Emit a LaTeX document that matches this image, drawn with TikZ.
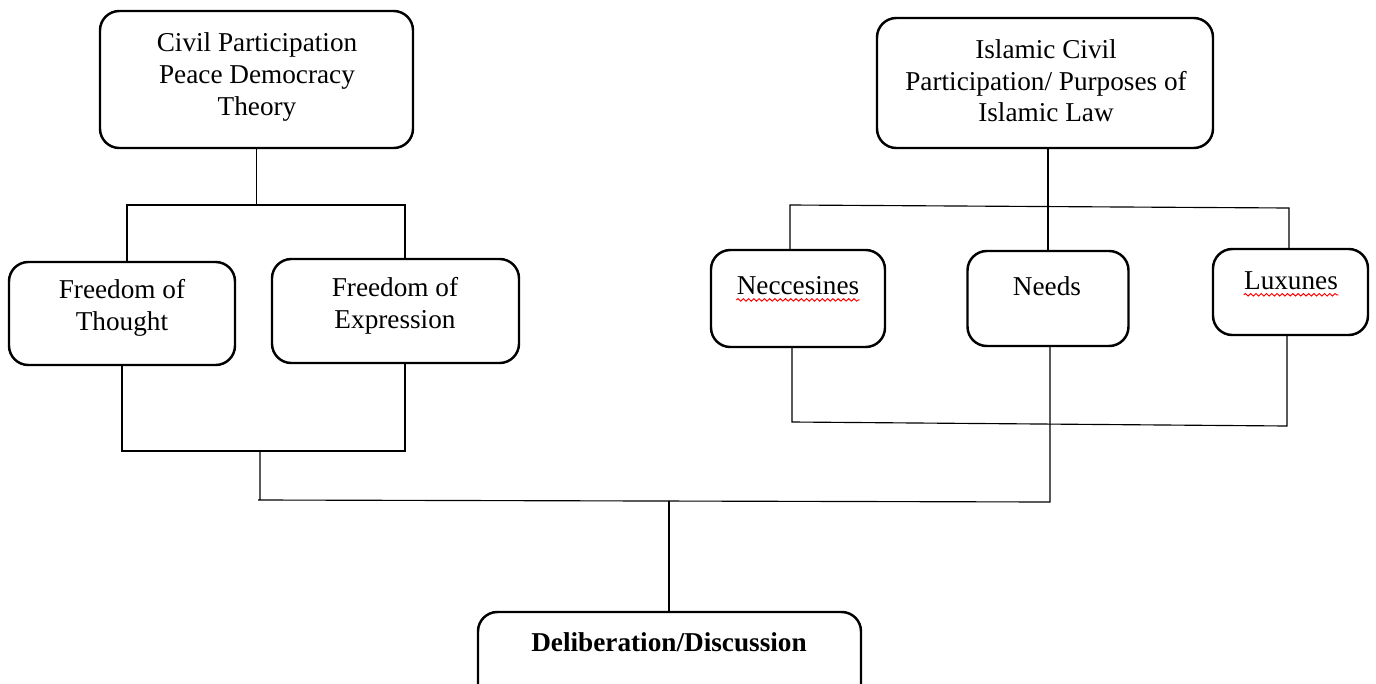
\documentclass[tikz,border=0pt]{standalone}
\usepackage{fontspec}
\setmainfont{Liberation Serif}
\usetikzlibrary{decorations.pathmorphing}
\begin{document}
\begin{tikzpicture}[x=0.02cm,y=-0.02cm,
  box/.style={draw,line width=1.4pt,rounded corners=11pt,inner sep=0pt},
  lbl/.style={align=center,font=\fontsize{15.5}{18}\selectfont,inner sep=0pt},
  link/.style={line width=0.65pt},
  squiggle/.style={red,line width=0.55pt,decorate,decoration={snake,segment length=3pt,amplitude=0.7pt}}]
\useasboundingbox (0,0) rectangle (1376,683);
\clip (0,0) rectangle (1376,683);
% boxes
\node[box,minimum width=313*0.02cm,minimum height=137*0.02cm] (civ) at (256.5,79.5) {};
\node[box,minimum width=336*0.02cm,minimum height=130*0.02cm] (isl) at (1045,83) {};
\node[box,minimum width=226*0.02cm,minimum height=103*0.02cm] (thought) at (122,313.5) {};
\node[box,minimum width=247*0.02cm,minimum height=104*0.02cm] (expr) at (395.5,311) {};
\node[box,minimum width=174*0.02cm,minimum height=97*0.02cm] (nec) at (798,298.5) {};
\node[box,minimum width=161*0.02cm,minimum height=95*0.02cm] (needs) at (1048,298.5) {};
\node[box,minimum width=155*0.02cm,minimum height=86*0.02cm] (lux) at (1290.5,292) {};
\node[box,minimum width=383*0.02cm,minimum height=120*0.02cm] (delib) at (669.5,672) {};
% texts
\node[lbl] (civT) at (257,77) {Civil Participation\\Peace Democracy\\Theory};
\node[lbl] (islT) at (1046,81) {Islamic Civil\\Participation/ Purposes of\\Islamic Law};
\node[lbl] (thoughtT) at (122,308) {Freedom of\\Thought};
\node[lbl] (exprT) at (395,306) {Freedom of\\Expression};
\node[lbl] (necT) at (798,286) {Neccesines};
\node[lbl] (needsT) at (1047,286) {Needs};
\node[lbl] (luxT) at (1291,281) {Luxunes};
\node[lbl,font=\fontsize{15.5}{18}\selectfont\bfseries] (delibT) at (669,642) {Deliberation/Discussion};
% spell-check underlines
\draw[squiggle] ([yshift=-2.5pt]necT.south west) -- ([yshift=-2.5pt]necT.south east);
\draw[squiggle] ([yshift=-2.5pt]luxT.south west) -- ([yshift=-2.5pt]luxT.south east);
% left tree
\coordinate (c1L) at (127,205);
\coordinate (c1R) at (405,205);
\draw[link] (civ.south) -- (civ.south |- c1L);
\draw[link] (thought.north -| c1L) -- (c1L) -- (c1R) -- (expr.north -| c1R);
\coordinate (b1L) at (122,451);
\coordinate (b1R) at (405,451);
\draw[link] (thought.south -| b1L) -- (b1L) -- (b1R) -- (expr.south -| b1R);
\coordinate (m1) at (260,451);
\coordinate (m2) at (258,500);
\coordinate (m3) at (1050,502);
\draw[link] (m1) -- (m1 |- m2) -- (m2) -- (m3) -- (m3 |- needs.south);
\coordinate (m4) at (669,501);
\draw[link] (m4) -- (delib.north -| m4);
% right tree
\draw[link] (needs.north |- isl.south) -- (needs.north);
\coordinate (i1L) at (790,205);
\coordinate (i1R) at (1289,208);
\draw[link] (nec.north -| i1L) -- (i1L) -- (i1R) -- (lux.north -| i1R);
\coordinate (r1L) at (792,422);
\coordinate (r1R) at (1287,426);
\draw[link] (nec.south -| r1L) -- (r1L) -- (r1R) -- (lux.south -| r1R);
\end{tikzpicture}
\end{document}
